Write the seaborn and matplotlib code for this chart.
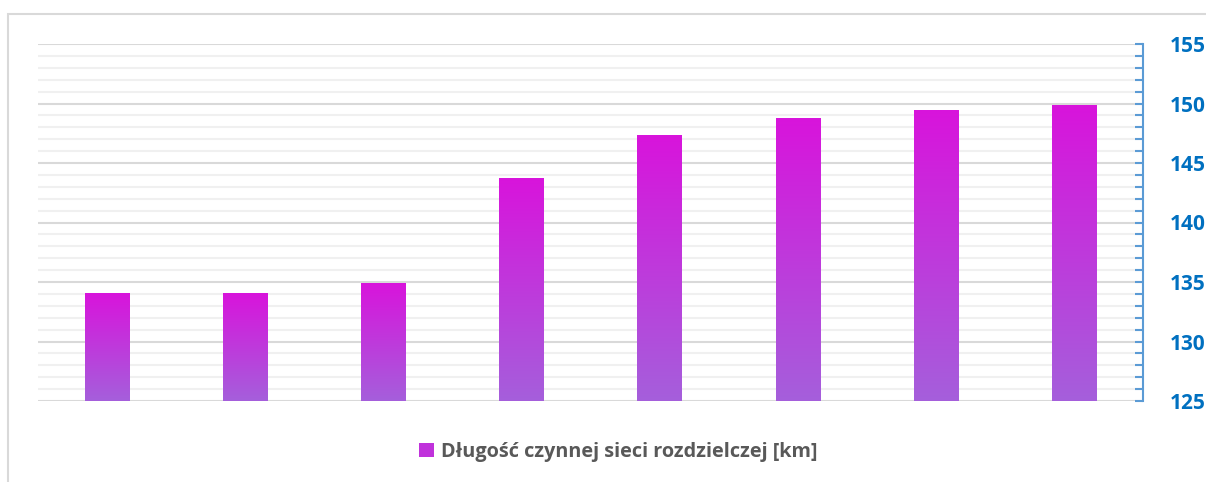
import numpy as np
import pandas as pd
import matplotlib
matplotlib.use('Agg')
import matplotlib.pyplot as plt
import seaborn as sns
from matplotlib.colors import LinearSegmentedColormap
from matplotlib.patches import Rectangle, Patch

# data (x labels are not shown in the picture)
categories = ['1', '2', '3', '4', '5', '6', '7', '8']
lengths_km = [134.0, 134.0, 134.9, 143.7, 147.35, 148.7, 149.45, 149.8]
series_name = 'Długość czynnej sieci rozdzielczej [km]'

df = pd.DataFrame({'kat': categories, 'km': lengths_km})

sns.set_style('white')
plt.rcParams['font.family'] = ['Open Sans', 'DejaVu Sans']

fig = plt.figure(figsize=(12.06, 4.82), dpi=100)
ax = fig.add_axes([38 / 1206, 1 - 401 / 482, (1143 - 38) / 1206, (401 - 44) / 482])

sns.barplot(data=df, x='kat', y='km', ax=ax, width=0.32, color='#D814DC')

cmap = LinearSegmentedColormap.from_list('grad', ['#A55FDB', '#D814DC'])
ymin, ymax = 125, 155

# gradient fill for every bar
grad = np.linspace(0, 1, 256).reshape(-1, 1)
for bar in ax.patches:
    x0, w, h = bar.get_x(), bar.get_width(), bar.get_height()
    ax.imshow(grad, extent=[x0, x0 + w, ymin, h], origin='lower', cmap=cmap,
              aspect='auto', zorder=3)
    bar.set_visible(False)
ax.set_xlim(-0.5, len(categories) - 0.5)
ax.set_ylim(ymin, ymax)
ax.set_axisbelow(False)

# gridlines
for v in range(ymin, ymax + 1):
    c = '#D9D9D9' if v % 5 == 0 else '#F0F0F0'
    ax.axhline(v, color=c, lw=1.5, zorder=1)

# right axis
ax.yaxis.tick_right()
ax.set_yticks(range(ymin, ymax + 1, 5))
ax.set_yticks(range(ymin, ymax + 1), minor=True)
ax.tick_params(axis='y', which='both', direction='in', color='#5B9BD5', width=1.5,
               length=6, right=True, left=False, labelright=True, labelleft=False)
ax.tick_params(axis='y', which='major', pad=19, labelsize=15, labelcolor='#0070C0')
for lab in ax.get_yticklabels():
    lab.set_fontweight('bold')
ax.set_xticks([])
ax.set_xlabel('')
ax.set_ylabel('')
for s in ['top', 'left', 'bottom']:
    ax.spines[s].set_visible(False)
ax.spines['right'].set_color('#5B9BD5')
ax.spines['right'].set_linewidth(1.5)

# legend
handle = Patch(facecolor='#C032DB', edgecolor='none')
leg = fig.legend([handle], [series_name], loc='center', bbox_to_anchor=(618 / 1206, 1 - 452 / 482),
                 frameon=False, handlelength=0.75, handleheight=0.75, handletextpad=0.35,
                 prop={'weight': 'bold', 'size': 14.3})
for t in leg.get_texts():
    t.set_color('#595959')

# chart frame
fig.patches.append(Rectangle((8 / 1206, -0.1), 1.2, 1 - 14 / 482 + 0.1, transform=fig.transFigure,
                             fill=False, edgecolor='#D9D9D9', lw=1.5))

fig.savefig('out.png', dpi=100)
